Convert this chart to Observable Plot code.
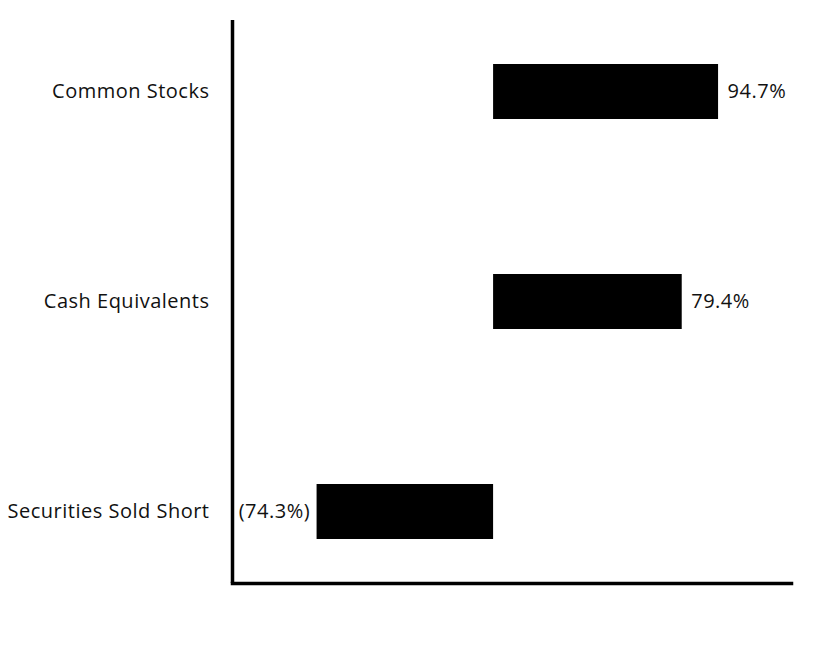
<!DOCTYPE html>
<html>
<head>
<meta charset="utf-8">
<script src="https://cdn.jsdelivr.net/npm/d3@7"></script>
<script src="https://cdn.jsdelivr.net/npm/@observablehq/plot@0.6"></script>
<style>
  body { margin: 0; background: #fff; }
  svg text { letter-spacing: 0.5px; }
</style>
</head>
<body>
<div id="chart"></div>
<script>
const categories = ["Common Stocks", "Cash Equivalents", "Securities Sold Short"];
const values = [94.7, 79.4, -74.3];
const labels = ["94.7%", "79.4%", "(74.3%)"];

const data = categories.map((c, i) => ({category: c, value: values[i], label: labels[i]}));
const xDomain = [-109.9, 125.4];

const chart = Plot.plot({
  width: 828,
  height: 648,
  marginLeft: 232,
  marginRight: 37,
  marginTop: 20,
  marginBottom: 65,
  style: {fontFamily: "'Open Sans', Lato, sans-serif", fontSize: "20px", color: "#000", background: "#fff"},
  x: {domain: xDomain, axis: null},
  y: {domain: categories, paddingInner: 0.739, paddingOuter: 0.207, label: null},
  marks: [
    Plot.axisY({tickSize: 0, tickPadding: 23, fontSize: 20, fill: "#111"}),
    Plot.barX(data, {x: "value", y: "category", fill: "#000"}),
    Plot.text(data.filter(d => d.value >= 0), {x: "value", y: "category", text: "label", dx: 9, textAnchor: "start", fontSize: 20, fill: "#111"}),
    Plot.text(data.filter(d => d.value < 0), {x: "value", y: "category", text: "label", dx: -7, textAnchor: "end", fontSize: 20, fill: "#111"}),
    Plot.ruleX([xDomain[0]], {stroke: "#000", strokeWidth: 3.5}),
    Plot.frame({anchor: "bottom", stroke: "#000", strokeWidth: 3.5})
  ]
});
document.getElementById("chart").appendChild(chart);
</script>
</body>
</html>
